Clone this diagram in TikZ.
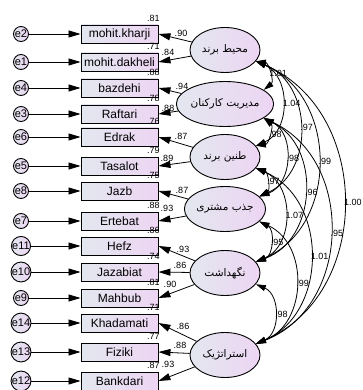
\documentclass[tikz,border=0pt]{standalone}
\usepackage{fontspec}
\setmainfont{Liberation Sans}
\newfontfamily\farsi[Script=Arabic]{DejaVu Sans}
\TeXXeTstate=1
\usetikzlibrary{arrows.meta,positioning,shapes.geometric}
\definecolor{paleblue}{HTML}{E3E7EF}
\definecolor{palepink}{HTML}{EDD5F3}

\begin{document}
\begin{tikzpicture}[x=1pt,y=-1pt,font=\fontsize{9}{10}\selectfont,
  obs/.style={draw,line width=0.9pt,left color=paleblue,right color=palepink,minimum width=77pt,minimum height=18pt,inner sep=0pt,font=\fontsize{12}{14}\selectfont},
  lat/.style={ellipse,draw,line width=0.9pt,left color=paleblue,right color=palepink,minimum width=70pt,minimum height=45pt,inner sep=0pt,font=\farsi\fontsize{10.5}{12}\selectfont},
  err/.style={circle,draw,line width=0.9pt,left color=paleblue,right color=palepink,minimum size=15pt,inner sep=0pt,font=\fontsize{11}{12}\selectfont},
  load/.style={-{Triangle[length=12pt,width=7pt]},line width=0.8pt},
  cov/.style={{Triangle[length=10pt,width=6pt]}-{Triangle[length=10pt,width=6pt]},line width=0.8pt},
  lbl/.style={inner sep=0.5pt},
  cl/.style={anchor=west,inner sep=0.3pt}]
\useasboundingbox (0,0) rectangle (363,390);
% indicators and their errors
\foreach \n/\txt/\y/\en/\rsq in {b1/mohit.kharji/34/e2/.81,b2/mohit.dakheli/62/e1/.71,
    b3/bazdehi/88/e4/.88,b4/Raftari/114/e3/.78,b5/Edrak/137/e6/.76,b6/Tasalot/166/e5/.79,
    b7/Jazb/191/e8/.75,b8/Ertebat/221/e7/.88,b9/Hefz/246/e11/.86,b10/Jazabiat/272/e10/.74,
    b11/Mahbub/298/e9/.81,b12/Khadamati/323/e14/.71,b13/Fiziki/352/e13/.77,b14/Bankdari/381/e12/.87}{
  \node[obs] (\n) at (119.5,\y) {\txt};
  \node[err] (\en) at (21,\y) {\en};
  \draw[load] (\en) -- (\n);
  \node[lbl,anchor=south east] (r\n) at ([xshift=2pt,yshift=2pt]\n.north east) {\rsq};
}
% latent factors
\foreach \n/\txt/\y in {f1/محیط برند/50,f2/مدیریت کارکنان/104,f3/طنین برند/157,
    f4/جذب مشتری/209,f5/نگهداشت/273,f6/استراتژیک/355}{
  \node[lat] (\n) at (225,\y) {\beginR\txt\endR};
}
% loadings
\foreach \f/\b/\v/\lx/\ly in {f1/b1/.90/181/33,f1/b2/.84/168/52,f2/b3/.94/182/86,f2/b4/.88/168/108,
    f3/b5/.87/181/136,f3/b6/.89/167/158,f4/b7/.87/182/190,f4/b8/.93/167/208,
    f5/b9/.93/183/249,f5/b10/.86/180/265,f5/b11/.90/170/284,
    f6/b12/.86/183/326,f6/b13/.88/180/345,f6/b14/.93/168/364}{
  \draw[load] (\f) -- (\b.east);
  \node[lbl] (l\b) at (\lx,\ly) {\v};
}
% correlations
\foreach \a/\b/\v in {f1/f2/1.01,f1/f3/1.04,f1/f4/.97,f1/f5/.99,f1/f6/1.00,
    f2/f3/.98,f2/f4/.98,f2/f5/.96,f2/f6/.95,
    f3/f4/.97,f3/f5/1.07,f3/f6/1.01,
    f4/f5/.95,f4/f6/.99,f5/f6/.98}{
  \draw[cov] (\a.-20) to[bend left=67,looseness=1.15] node[cl] {\v} (\b.20);
}
\end{tikzpicture}
\end{document}
